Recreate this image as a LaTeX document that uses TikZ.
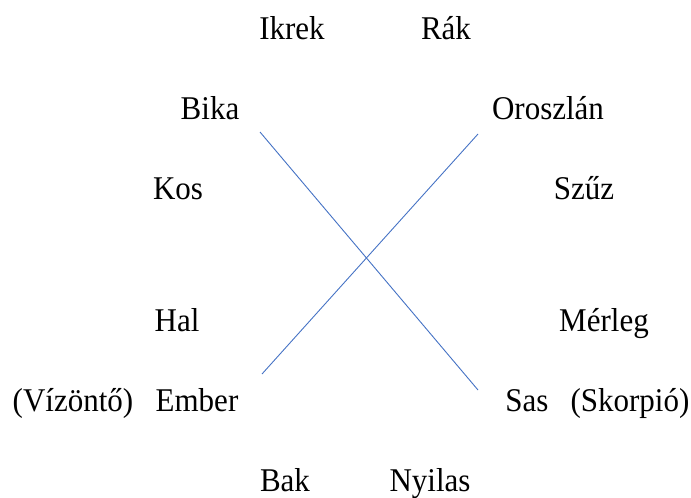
\documentclass[tikz,border=0pt]{standalone}
\usepackage{fontspec}
\setmainfont{Liberation Serif}
\definecolor{lineblue}{HTML}{4472C4}
\newcommand{\vstr}[1]{\scalebox{1}[1.07]{#1}}
\begin{document}
\begin{tikzpicture}[x=1pt,y=-1pt,
  lbl/.style={anchor=base,inner sep=0pt,font=\fontsize{31}{36}\selectfont},
  conn/.style={draw=lineblue,line width=0.9pt}]
\useasboundingbox (0,0) rectangle (691,498);
\node[lbl] (ikrek) at (292,39) {\vstr{Ikrek}};
\node[lbl] (rak) at (446,39) {\vstr{Rák}};
\node[lbl] (bika) at (210,119) {\vstr{Bika}};
\node[lbl] (oroszlan) at (548,119) {\vstr{Oroszlán}};
\node[lbl] (kos) at (178,199) {\vstr{Kos}};
\node[lbl] (szuz) at (584,199) {\vstr{Szűz}};
\node[lbl] (hal) at (177,331) {\vstr{Hal}};
\node[lbl] (merleg) at (604,331) {\vstr{Mérleg}};
\node[lbl] (vizonto) at (73,411) {\vstr{(Vízöntő)}};
\node[lbl] (ember) at (197,411) {\vstr{Ember}};
\node[lbl] (sas) at (527,411) {\vstr{Sas}};
\node[lbl] (skorpio) at (630,411) {\vstr{(Skorpió)}};
\node[lbl] (bak) at (285,491) {\vstr{Bak}};
\node[lbl] (nyilas) at (430,491) {\vstr{Nyilas}};
\coordinate (a1) at (260,132);
\coordinate (a2) at (478,390);
\coordinate (b1) at (478,134);
\coordinate (b2) at (262,374);
\draw[conn] (a1) -- (a2);
\draw[conn] (b1) -- (b2);
\end{tikzpicture}
\end{document}
